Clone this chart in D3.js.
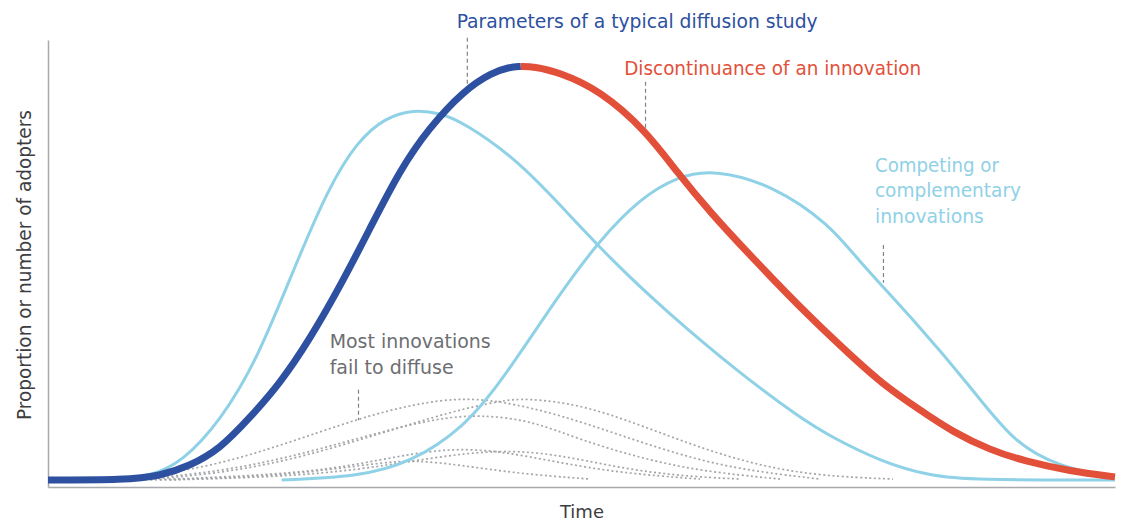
<!DOCTYPE html>
<html>
<head>
<meta charset="utf-8">
<script src="https://cdn.jsdelivr.net/npm/d3@7"></script>
<style>
  body { margin: 0; background: #fff; }
  svg { display: block; font-family: "Liberation Sans Narrow", "DejaVu Sans Condensed", "Roboto", sans-serif; }
</style>
</head>
<body>
<div id="chart"></div>
<script>
// curves in chart units: t = time (0..100), v = adopters (0..100)
const typicalStudy = [
  [0, 0], [7.2, 0], [10.5, 0.9], [13.3, 3.2], [16.1, 7.0], [18.9, 14.1], [21.7, 21.8],
  [24.5, 31.8], [27.6, 45.0], [30.2, 57.3], [33.0, 70.5], [35.7, 80.0], [39.0, 88.6],
  [41.6, 92.6], [43.2, 93.8], [44.3, 94.0]
];
const discontinuance = [
  [44.3, 94.0], [45.5, 94.0], [48.0, 92.6], [51.7, 88.6], [56.0, 79.5], [59.0, 69.8], [62.0, 61.0],
  [66.4, 49.5], [71.4, 37.0], [75.2, 28.4], [78.1, 22.0], [81.7, 15.9], [84.8, 10.9],
  [88.3, 6.8], [91.5, 4.3], [95.8, 2.0], [100, 0.7]
];
const competingA = [
  [0, 0], [6.7, 0], [9.6, 0.9], [12.6, 4.1], [16.2, 13.6], [19.6, 27.3], [23.2, 48.9],
  [26.3, 66.5], [29.0, 77.0], [31.6, 82.4], [34.3, 84.2], [36.7, 83.4], [39.0, 81.2],
  [44.0, 72.7], [48.0, 62.5], [53.0, 49.5], [58.0, 38.2], [64.8, 24.3], [70.5, 14.1],
  [73.1, 10.2], [78.1, 4.1], [82.7, 0.9], [86.5, 0], [100, 0]
];
const competingB = [
  [21.9, 0], [29.0, 0.7], [34.0, 3.9], [39.0, 12.0], [42.4, 22.0], [48.0, 42.5],
  [51.7, 54.5], [55.5, 64.0], [59.0, 69.0], [62.4, 70.6], [68.0, 67.0], [73.4, 57.8],
  [75.7, 50.5], [81.4, 35.7], [86.5, 21.1], [90.5, 8.4], [94.8, 3.0], [99.8, 0.5]
];
const failedA = [[5.8, 0], [14.2, 2.3], [21.7, 7.7], [29.2, 14.1], [34.6, 17.4], [38.6, 18.6], [42.4, 18.0], [48.0, 14.8], [53.6, 10.2], [59.2, 5.7], [64.9, 2.3], [72.4, 0.2]];
const failedB = [[8.6, 0], [16.1, 1.4], [23.6, 5.0], [31.1, 10.5], [37.7, 15.5], [42.4, 18.0], [44.7, 18.6], [49.9, 17.2], [55.5, 12.5], [61.1, 7.3], [66.7, 3.2], [72.4, 0.9], [79.2, 0.2]];
const failedC = [[7.7, 0], [16.1, 1.8], [23.6, 5.7], [31.1, 10.9], [36.7, 14.1], [40.5, 14.8], [45.2, 13.6], [49.9, 9.1], [55.5, 5.0], [61.1, 2.0], [68.6, 0.2]];
const failedD = [[9.6, 0], [18.9, 0.9], [26.4, 2.3], [33.0, 5.5], [37.7, 7.2], [42.4, 6.6], [48.0, 3.9], [53.6, 1.6], [61.1, 0.2]];
const failedE = [[11.4, 0], [21.7, 0.7], [29.2, 2.3], [35.8, 5.0], [42.4, 7.0], [48.0, 5.7], [53.6, 2.7], [59.2, 0.9], [64.9, 0.2]];
const failedF = [[10.5, 0], [19.9, 0.7], [26.4, 2.3], [31.1, 3.9], [34.4, 4.5], [38.6, 3.4], [44.2, 1.4], [50.8, 0.2]];
const failedCurves = [failedA, failedB, failedC, failedD, failedE, failedF];

// labels: text lines, anchor point (t, v) of first baseline
const labels = [
  { lines: ['Parameters of a typical diffusion study'], t: 38.3, v: 102.8, widths: [361], color: '#2d50a0' },
  { lines: ['Discontinuance of an innovation'], t: 54.0, v: 92.0, widths: [297], color: '#e2503a' },
  { lines: ['Competing or', 'complementary', 'innovations'], t: 77.5, v: 70.0, widths: [124, 146, 109], color: '#8fd1e6' },
  { lines: ['Most innovations', 'fail to diffuse'], t: 26.4, v: 29.9, widths: [161, 124], color: '#6d6e71' }
];
// leader lines: t, v from, v to
const leaders = [
  [39.3, 100.5, 89.8],
  [56.0, 90.5, 79.5],
  [78.3, 53.4, 44.8],
  [29.1, 20.5, 13.6]
];

const width = 1122, height = 523;
const svg = d3.select('#chart').append('svg')
  .attr('width', width)
  .attr('height', height);

const x = d3.scaleLinear().domain([0, 100]).range([48, 1115]);
const y = d3.scaleLinear().domain([-1.6, 100]).range([487, 40]);

const line = d3.line()
  .x(d => x(d[0]))
  .y(d => y(d[1]))
  .curve(d3.curveBasis);

// axes, no ticks
svg.append('g')
  .attr('transform', 'translate(' + x(0) + ',0)')
  .call(d3.axisLeft(y).ticks(0).tickSizeOuter(0))
  .call(g => g.select('.domain').attr('stroke', '#a7a9ac').attr('stroke-width', 1.5));
svg.append('g')
  .attr('transform', 'translate(0,' + y(-1.6) + ')')
  .call(d3.axisBottom(x).ticks(0).tickSizeOuter(0))
  .call(g => g.select('.domain').attr('stroke', '#a7a9ac').attr('stroke-width', 1.5));

// failed innovations
svg.selectAll('.failed')
  .data(failedCurves)
  .enter()
  .append('path')
  .attr('class', 'failed')
  .attr('fill', 'none')
  .attr('stroke', '#a3a5a8')
  .attr('stroke-width', 1.7)
  .attr('stroke-dasharray', '2,2.6')
  .attr('d', line);

// competing innovations
svg.selectAll('.competing')
  .data([competingA, competingB])
  .enter()
  .append('path')
  .attr('class', 'competing')
  .attr('fill', 'none')
  .attr('stroke', '#8fd1e6')
  .attr('stroke-width', 3)
  .attr('d', line);

svg.append('path')
  .datum(discontinuance)
  .attr('fill', 'none')
  .attr('stroke', '#e2503a')
  .attr('stroke-width', 7)
  .attr('d', line);

svg.append('path')
  .datum(typicalStudy)
  .attr('fill', 'none')
  .attr('stroke', '#2d50a0')
  .attr('stroke-width', 7)
  .attr('d', line);

// leaders
svg.selectAll('.leader')
  .data(leaders)
  .enter()
  .append('line')
  .attr('class', 'leader')
  .attr('x1', d => x(d[0]))
  .attr('x2', d => x(d[0]))
  .attr('y1', d => y(d[1]))
  .attr('y2', d => y(d[2]))
  .attr('stroke', '#808285')
  .attr('stroke-width', 1.2)
  .attr('stroke-dasharray', '4,3');

// annotation text
labels.forEach(l => {
  l.lines.forEach((s, i) => {
    svg.append('text')
      .attr('x', x(l.t))
      .attr('y', y(l.v) + i * 25.5)
      .attr('fill', l.color)
      .attr('font-size', 19)
      .attr('font-weight', 500)
      .attr('textLength', l.widths[i])
      .attr('lengthAdjust', 'spacingAndGlyphs')
      .text(s);
  });
});

// axis titles
svg.append('text')
  .attr('x', 582)
  .attr('y', 518)
  .attr('text-anchor', 'middle')
  .attr('fill', '#3d3d3f')
  .attr('font-size', 17)
  .attr('textLength', 44)
  .attr('lengthAdjust', 'spacingAndGlyphs')
  .text('Time');

svg.append('text')
  .attr('transform', 'translate(31,265) rotate(-90)')
  .attr('text-anchor', 'middle')
  .attr('fill', '#3d3d3f')
  .attr('font-size', 19)
  .attr('textLength', 310)
  .attr('lengthAdjust', 'spacingAndGlyphs')
  .text('Proportion or number of adopters');
</script>
</body>
</html>
